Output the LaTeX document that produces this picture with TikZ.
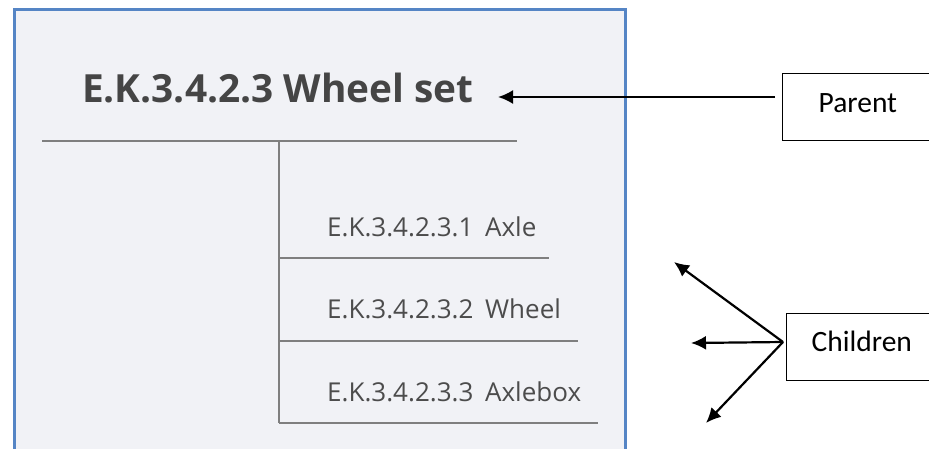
\documentclass[tikz,border=0pt]{standalone}
\usepackage{fontspec}
\setmainfont{Open Sans}
\newfontfamily\calfont{Carlito}
\usetikzlibrary{arrows.meta}
\definecolor{framebl}{HTML}{5585C5}
\definecolor{panelbg}{HTML}{F1F2F6}
\definecolor{rulegray}{HTML}{7F7F7F}
\definecolor{txtgray}{HTML}{454545}
\definecolor{childgray}{HTML}{4C4C4C}
\begin{document}
\begin{tikzpicture}[x=1pt,y=-1pt,
  panel/.style={draw=framebl,line width=3pt,fill=panelbg},
  treerule/.style={draw=rulegray,line width=1.5pt},
  headtxt/.style={anchor=base west,inner sep=0pt,text=txtgray,font=\fontsize{38.8}{42}\selectfont\bfseries},
  childtxt/.style={anchor=base west,inner sep=0pt,text=childgray,font=\fontsize{26}{30}\selectfont},
  callout/.style={draw=black,line width=1.3pt,anchor=north west,inner ysep=0pt,font=\calfont\fontsize{29.5}{32}\selectfont},
  pointer/.style={draw=black,line width=2.2pt,-{Latex[length=15pt,width=14pt]}}]
\useasboundingbox (0,0) rectangle (929,448);
\fill[white] (0,0) rectangle (929,448);
\begin{scope}
\clip (0,0) rectangle (929,448);
\draw[panel] (14,9) rectangle (625,470);
% heading and tree
\node[headtxt] (head) at (82,102) {E.K.3.4.2.3 Wheel set};
\coordinate (hl) at (42,141);
\coordinate (hr) at (517,141);
\coordinate (vtop) at (279,141);
\coordinate (vbot) at (279,423);
\coordinate (r1) at (549,258);
\coordinate (r2) at (578,341);
\coordinate (r3) at (598,423);
\draw[treerule] (hl) -- (hr);
\draw[treerule] (vtop) -- (vbot);
\draw[treerule] (279,258) -- (r1);
\draw[treerule] (279,341) -- (r2);
\draw[treerule] (vbot) -- (r3);
\node[childtxt] (axle) at (327,236) {E.K.3.4.2.3.1\hspace{0.45em}Axle};
\node[childtxt] (wheel) at (327,318) {E.K.3.4.2.3.2\hspace{0.45em}Wheel};
\node[childtxt] (axlebox) at (327,401) {E.K.3.4.2.3.3\hspace{0.45em}Axlebox};
% callouts
\node[callout,inner xsep=36pt,text height=39pt,text depth=28pt] (parent) at (782,73) {Parent};
\node[callout,inner xsep=25pt,text height=38pt,text depth=29pt] (children) at (786,313) {Children};
\coordinate (pstart) at (775,97);
\coordinate (ptip) at (498,97);
\draw[pointer] (pstart) -- (ptip);
\coordinate (fan) at (783,342);
\coordinate (c1) at (674,262);
\coordinate (c2) at (691,343);
\coordinate (c3) at (706,423);
\draw[pointer] (fan) -- (c1);
\draw[pointer] (fan) -- (c2);
\draw[pointer] (fan) -- (c3);
\end{scope}
\end{tikzpicture}
\end{document}
